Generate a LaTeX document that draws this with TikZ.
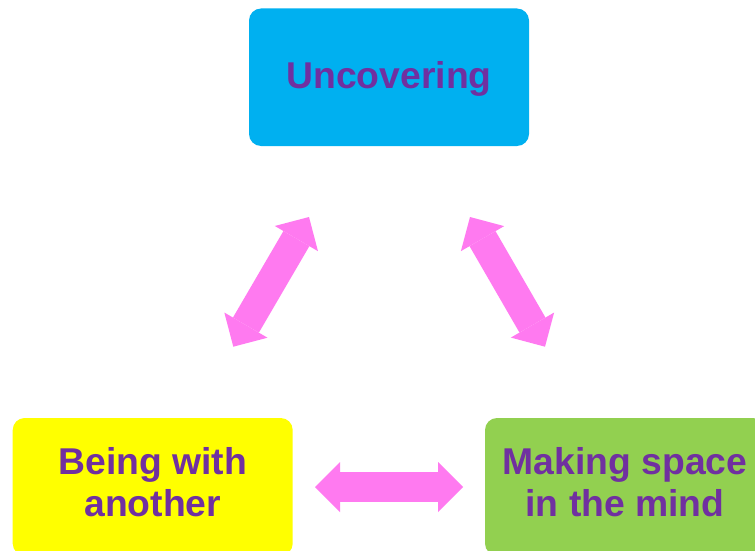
\documentclass[tikz,border=0pt]{standalone}
\usepackage{fontspec}
\setmainfont{Liberation Sans}
\usetikzlibrary{arrows.meta}
\definecolor{boxcyan}{HTML}{00B0F0}
\definecolor{boxyellow}{HTML}{FFFF00}
\definecolor{boxgreen}{HTML}{92D050}
\definecolor{txtpurple}{HTML}{7030A0}
\definecolor{arrowpink}{RGB}{255,122,240}
\tikzset{
  labelbox/.style={rectangle, rounded corners=12pt, minimum width=280pt, minimum height=137.5pt,
    inner sep=0pt, align=center, text=txtpurple,
    font=\fontsize{37.3}{41.7}\selectfont\bfseries},
  bigarrow/.style={draw=arrowpink, line width=30pt,
    {Triangle[width=50pt,length=25pt,line width=0pt]}-{Triangle[width=50pt,length=25pt,line width=0pt]}}
}
\begin{document}
\begin{tikzpicture}[x=1pt,y=-1pt]
\useasboundingbox (0,0) rectangle (755,551);
\clip (0,0) rectangle (755,551);
\fill[white] (0,0) rectangle (755,551);
\node[labelbox, fill=boxcyan, text depth=4pt] (unc) at (389,77.25) {Uncovering};
\node[labelbox, fill=boxyellow, text depth=9pt] (being) at (152.7,486.75) {Being with\\another};
\node[labelbox, fill=boxgreen, text depth=9pt] (making) at (625,486.75) {Making space\\in the mind};
\coordinate (l1) at (309,217);
\coordinate (l2) at (233.3,346.7);
\coordinate (r1) at (470,217);
\coordinate (r2) at (545,346.7);
\coordinate (h1) at (315,487);
\coordinate (h2) at (463,487);
\draw[bigarrow] (l2) -- (l1);
\draw[bigarrow] (r1) -- (r2);
\draw[bigarrow] (h1) -- (h2);
\end{tikzpicture}
\end{document}
